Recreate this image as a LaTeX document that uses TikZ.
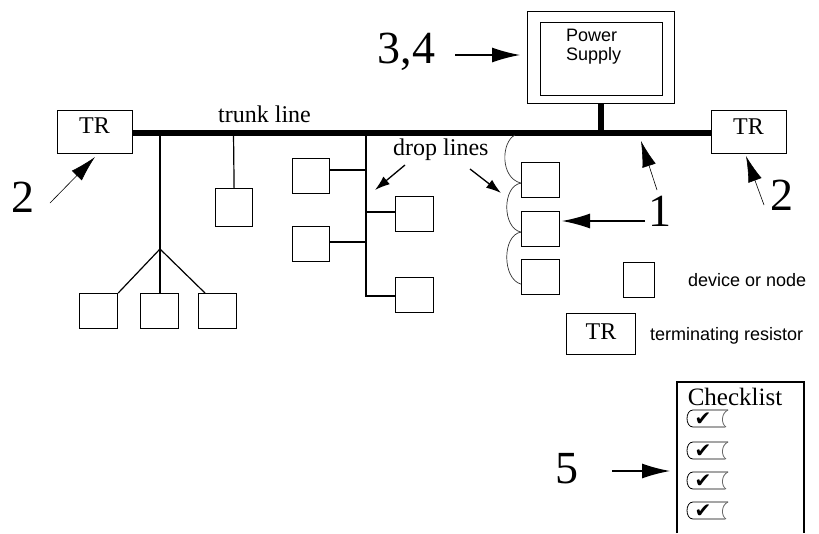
\documentclass[tikz,border=0pt]{standalone}
\usepackage{fontspec}
\setmainfont{Liberation Serif}
\setsansfont{Liberation Sans}
\newfontfamily\symfont{DejaVu Sans}
\usetikzlibrary{arrows.meta}
\begin{document}
\begin{tikzpicture}[x=1pt,y=-1pt,
  boxln/.style={line width=1.2pt},
  devbox/.style={draw, boxln, fill=white, inner sep=0pt, minimum width=38pt, minimum height=35pt, anchor=north west},
  trbox/.style={draw, boxln, fill=white, inner sep=0pt, minimum width=75pt, minimum height=43pt, anchor=north west},
  dropln/.style={line width=1.2pt},
  trunkln/.style={line width=5.5pt},
  serif24/.style={font=\fontsize{24}{28}\selectfont, inner sep=0pt},
  bignum/.style={font=\fontsize{46}{50}\selectfont, inner sep=0pt, anchor=base},
  sans18/.style={font=\sffamily\fontsize{18}{19.5}\selectfont, inner sep=0pt},
  bigarr/.style={-{Latex[length=28pt,width=15pt]}, line width=1.3pt},
  thinarr/.style={-{Latex[length=26pt,width=14pt]}, line width=0.6pt},
  smallarr/.style={-{Latex[length=15pt,width=10pt]}, line width=1.3pt},
  chain/.style={line width=0.7pt, draw=black!80},
  item/.style={line width=0.8pt}
]
\useasboundingbox (0,0) rectangle (819,533);

% trunk line
\coordinate (tkL) at (130,133);
\coordinate (tkR) at (711,133);
\draw[trunkln] (tkL) -- (tkR);

% terminating resistors
\node[trbox] (trL) at (57,110) {};
\node[serif24, anchor=base] (trLt) at (94.5,133) {TR};
\node[trbox] (trR) at (711,110) {};
\node[serif24, anchor=base] (trRt) at (748.5,134) {TR};

% power supply
\node[draw, boxln, inner sep=0pt, minimum width=147pt, minimum height=92pt, anchor=north west] (psO) at (527,11) {};
\node[draw, boxln, inner sep=0pt, minimum width=122pt, minimum height=73pt, anchor=north west] (psI) at (540,22) {};
\node[sans18, anchor=base west] (pst1) at (566,41) {Power};
\node[sans18, anchor=base west] (pst2) at (566,60) {Supply};
\coordinate (psTap) at (601,133);
\draw[line width=5.5pt] (psO.south -| psTap) -- (psTap);

% trunk label
\node[serif24, anchor=base west] (trunklbl) at (218,122) {trunk line};

% drop 1 : three devices
\coordinate (j1top) at (160,133);
\coordinate (j1) at (160,249);
\node[devbox] (d1) at (79,293) {};
\node[devbox] (d2) at (140,293) {};
\node[devbox] (d3) at (198,293) {};
\draw[dropln] (j1top) -- (j1);
\draw[dropln] (j1) -- (d1.north east);
\draw[dropln] (j1) -- (d2.north -| j1);
\draw[dropln] (j1) -- ([xshift=7pt]d3.north west);

% drop 2
\coordinate (j2top) at (233.5,133);
\node[devbox, minimum width=37pt, minimum height=38pt] (d4) at (215,188) {};
\draw[dropln] (j2top) -- (d4.north);

% drop 3
\coordinate (j3top) at (366,133);
\coordinate (j3bot) at (366,296);
\coordinate (b5) at (366,170);
\coordinate (b6) at (366,242);
\coordinate (b7) at (366,212);
\node[devbox, minimum width=37pt] (d5) at (292,158) {};
\node[devbox, minimum width=37pt] (d6) at (292,226) {};
\node[devbox] (d7) at (395,196) {};
\node[devbox] (d8) at (395,277) {};
\draw[dropln] (j3top) -- (j3bot) -- (d8.west |- j3bot);
\draw[dropln] (d5.east |- b5) -- (b5);
\draw[dropln] (d6.east |- b6) -- (b6);
\draw[dropln] (b7) -- (d7.west |- b7);

% drop lines label and arrows
\node[serif24, anchor=base west] (droplbl) at (393,155) {drop lines};
\coordinate (da1s) at (405,165);
\coordinate (da1e) at (375,190);
\coordinate (da2s) at (470,169);
\coordinate (da2e) at (501,193);
\draw[smallarr] (da1s) -- (da1e);
\draw[smallarr] (da2s) -- (da2e);

% daisy chain
\coordinate (c0) at (515,135);
\node[devbox] (d9) at (521,162) {};
\node[devbox] (d10) at (521,211) {};
\node[devbox] (d11) at (521,259) {};
\draw[chain] (c0) .. controls (501,142) and (500,178) .. ([yshift=-3pt]d9.west);
\draw[chain] ([yshift=-3pt]d9.west) .. controls (502,186) and (502,228) .. ([yshift=-3pt]d10.west);
\draw[chain] ([yshift=-3pt]d10.west) .. controls (502,235) and (502,279) .. ([yshift=-7pt]d11.west);

% numbers and arrows
\node[bignum] (n34) at (406.5,63) {3,4};
\coordinate (a34s) at (455,55);
\coordinate (a34e) at (520,55);
\draw[bigarr] (a34s) -- (a34e);

\node[bignum] (n2L) at (22.5,212) {2};
\coordinate (a2Ls) at (50,203);
\coordinate (a2Le) at (95,157);
\draw[thinarr] (a2Ls) -- (a2Le);

\node[bignum] (n2R) at (781.5,210) {2};
\coordinate (a2Rs) at (764,205);
\coordinate (a2Re) at (746,156);
\draw[thinarr] (a2Rs) -- (a2Re);

\node[bignum] (n1) at (660,226) {1};
\coordinate (a1us) at (657,190);
\coordinate (a1ue) at (641,141);
\draw[thinarr] (a1us) -- (a1ue);
\coordinate (a1hs) at (645,221);
\coordinate (a1he) at (562,221);
\draw[bigarr] (a1hs) -- (a1he);

% legend
\node[devbox, minimum width=31pt] (legdev) at (623,262) {};
\node[sans18, anchor=base west] (legdevt) at (688,286) {device or node};
\node[trbox, minimum width=69pt, minimum height=41pt] (legtr) at (566,313) {};
\node[serif24, anchor=base] (legtrt) at (601,339) {TR};
\node[sans18, anchor=base west] (legtrlbl) at (650,340) {terminating resistor};

% checklist
\draw[boxln] (677,533) -- (677,382) -- (804,382) -- (804,533);
\node[font=\fontsize{25}{28}\selectfont, inner sep=0pt, anchor=base] (cl) at (735,405) {Checklist};
\foreach \yy [count=\i] in {410,442,472,502} {
  \draw[item] (728,\yy) -- (693,\yy) .. controls (685,\yy) and (685,\yy+17) .. (693,\yy+17) -- (725,\yy+17);
  \draw[item, draw=black!60] (728,\yy) .. controls (721,\yy+3) and (721,\yy+14) .. (726,\yy+17);
  \node[font=\symfont\fontsize{20}{20}\selectfont, inner sep=0pt] (ck\i) at (703,\yy+9.5) {✔};
}
\node[bignum] (n5) at (567,483) {5};
\coordinate (a5s) at (612,471);
\coordinate (a5e) at (670,471);
\draw[bigarr] (a5s) -- (a5e);
\end{tikzpicture}
\end{document}
